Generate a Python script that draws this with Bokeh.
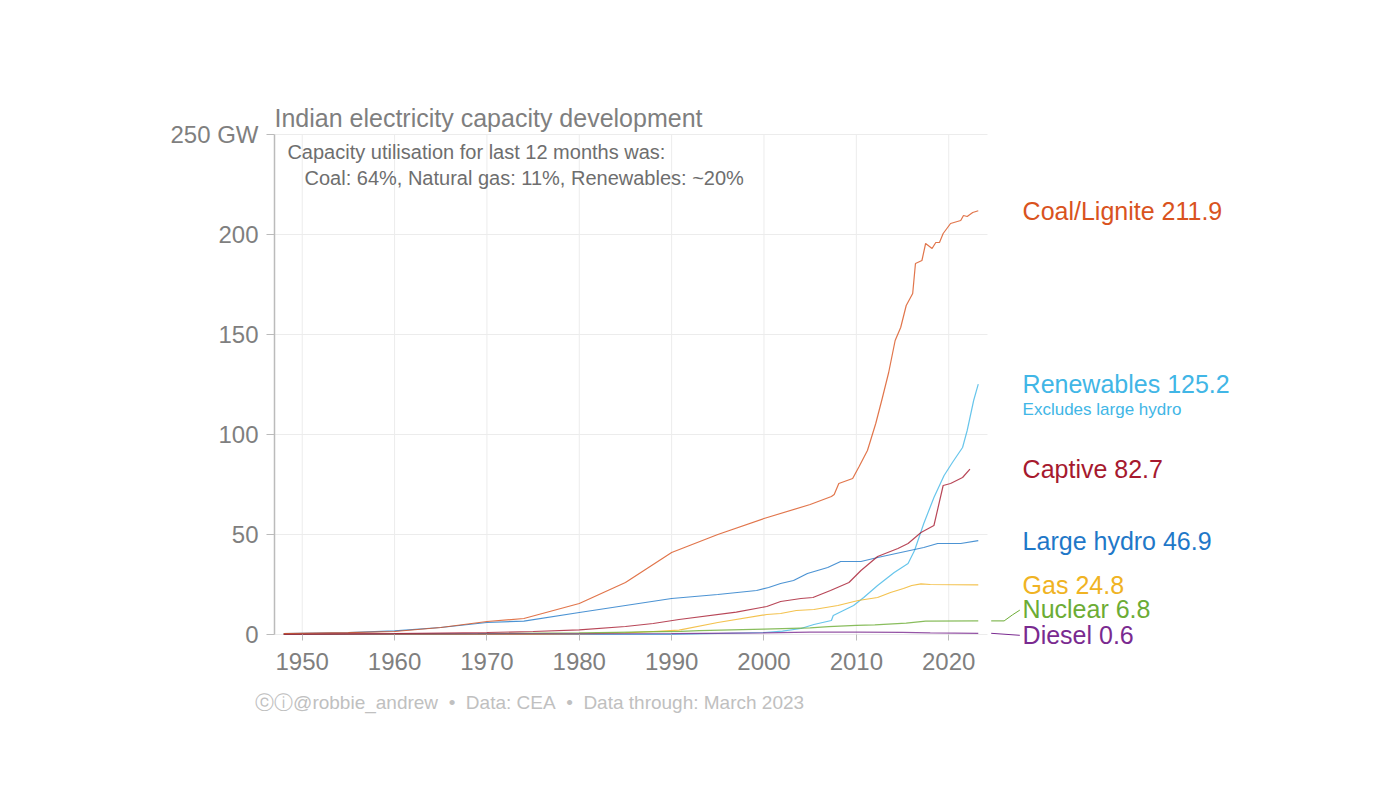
from bokeh.plotting import figure
from bokeh.models import Range1d, FixedTicker, Label
from bokeh.embed import file_html
from bokeh.resources import INLINE

FONT = "Liberation Sans"

# ---------------- data (GW) ----------------
coal_x = [1948, 1955, 1960, 1965, 1970, 1974, 1980, 1985, 1990, 1995, 2000, 2005, 2007.3, 2007.6,
          2008.1, 2009.0, 2009.6, 2010.3, 2011.2, 2012.1, 2012.8, 2013.5, 2014.2, 2014.8, 2015.4,
          2016.1, 2016.4, 2017.1, 2017.5, 2018.2, 2018.6, 2019.0, 2019.4, 2020.2, 2021.3, 2021.6,
          2022.0, 2022.6, 2023.2]
coal_y = [0.5, 0.9, 1.5, 3.5, 6.5, 8.0, 15.5, 26.0, 41.0, 50.0, 58.0, 65.0, 69.0, 70.0,
          75.5, 77.0, 78.0, 84.0, 92.0, 105.5, 118.0, 131.0, 147.0, 153.5, 164.5,
          170.5, 185.5, 187.0, 195.5, 193.0, 196.0, 196.0, 200.5, 205.5, 207.0, 209.5,
          209.0, 211.0, 211.9]

ren_x = [1948, 1990, 1995, 2000, 2002, 2004, 2005.4, 2007.3, 2007.5, 2009.7, 2010.8, 2012.3,
         2014.1, 2015.6, 2016.3, 2017.3, 2018.4, 2019.5, 2020.4, 2021.5, 2022.0, 2022.7, 2023.2]
ren_y = [0, 0.05, 0.5, 1.0, 1.7, 3.0, 5.0, 7.0, 9.5, 14.5, 18.5, 24.5,
         31.0, 35.5, 42.0, 55.5, 68.5, 79.5, 86.0, 93.5, 102.0, 117.0, 125.2]

cap_x = [1948, 1960, 1970, 1975, 1980, 1985, 1988, 1990.8, 1997, 2000.3, 2001.8, 2004, 2005.3,
         2007.2, 2009.2, 2010.5, 2012.3, 2014.5, 2015.6, 2017.0, 2018.4, 2019.4, 2020.2, 2021.5,
         2022.3]
cap_y = [0.2, 0.5, 1.0, 1.5, 2.3, 4.0, 5.5, 7.5, 11.2, 14.0, 16.5, 18.0, 18.5,
         22.0, 26.0, 32.0, 39.0, 43.0, 45.5, 51.0, 54.5, 74.5, 75.5, 78.5,
         82.7]

hyd_x = [1948, 1955, 1960, 1965, 1970, 1974, 1980, 1985, 1990, 1995, 1999.2, 2000.5, 2001.8,
         2003.2, 2004.7, 2006.9, 2008.3, 2010.5, 2012.3, 2014.8, 2017.3, 2018.8, 2021.3, 2023.2]
hyd_y = [0.5, 0.9, 1.8, 3.5, 6.0, 6.7, 11.0, 14.5, 18.0, 20.0, 22.0, 23.5, 25.5,
         27.0, 30.5, 33.5, 36.5, 36.5, 38.5, 41.0, 43.5, 45.5, 45.5, 46.9]

gas_x = [1948, 1975, 1980, 1985, 1988, 1990.8, 1995, 2000.3, 2001.8, 2003.5, 2005.4, 2008.0,
         2010.2, 2012.3, 2013.7, 2015.1, 2016.0, 2017.0, 2018.0, 2023.2]
gas_y = [0, 0.1, 0.3, 0.8, 1.5, 2.2, 6.0, 10.0, 10.5, 12.0, 12.5, 14.5,
         17.0, 18.5, 21.0, 23.0, 24.5, 25.3, 25.0, 24.8]

nuc_x = [1948, 1969, 1973, 1980, 1984, 1987, 1991, 1993, 2000, 2005, 2007, 2010, 2012,
         2015.4, 2017.5, 2023.2]
nuc_y = [0, 0.4, 0.6, 0.8, 1.1, 1.3, 1.6, 1.9, 2.7, 3.3, 3.9, 4.6, 4.8,
         5.7, 6.7, 6.8]

dsl_x = [1948, 1970, 1990, 2000, 2005, 2010, 2015, 2018, 2023.2]
dsl_y = [0.2, 0.3, 0.4, 0.8, 1.2, 1.2, 1.1, 0.8, 0.6]

series_names = ["Coal/Lignite", "Renewables", "Captive", "Large hydro", "Gas", "Nuclear", "Diesel"]
latest = [211.9, 125.2, 82.7, 46.9, 24.8, 6.8, 0.6]
label_y = [211.9, 125.2, 82.7, 46.9, 24.8, 13.0, 0.0]
colors = ["#d9531e", "#41b6e6", "#a6192e", "#1f78c8", "#f0b323", "#6cac35", "#7a2a90"]

x_ticks = [1950, 1960, 1970, 1980, 1990, 2000, 2010, 2020]
y_ticks = [0, 50, 100, 150, 200, 250]

# plot-area extent (data units)
X0, X1 = 1947.0, 2024.2
Y0, Y1 = 0, 250

# ---------------- figure ----------------
# frame covers the whole drawing so that title, labels and footer are not clipped
BL, BR, BT, BB = 130, 10, 10, 60
W, H = 1380, 780
PX_PER_YEAR = 713 / (X1 - X0)
PX_PER_GW = 2.0
x_start = X0 - (274 - BL) / PX_PER_YEAR
x_end = X0 + (W - BR - 274) / PX_PER_YEAR
y_end = Y0 + (634 - BT) / PX_PER_GW
y_start = Y0 - ((H - BB) - 634) / PX_PER_GW

p = figure(width=W, height=H, output_backend="svg", toolbar_location=None,
           x_range=Range1d(x_start, x_end), y_range=Range1d(y_start, y_end),
           min_border_left=BL, min_border_right=BR, min_border_top=BT, min_border_bottom=BB)
p.outline_line_color = None
p.background_fill_color = "white"
p.border_fill_color = "white"
p.xgrid.visible = False
p.ygrid.visible = False

p.xaxis.ticker = FixedTicker(ticks=x_ticks)
p.yaxis.ticker = FixedTicker(ticks=y_ticks)
p.xaxis.fixed_location = Y0
p.yaxis.fixed_location = X0
p.xaxis.bounds = (X0, X1)
p.yaxis.bounds = (Y0, Y1)

for ax in (p.xaxis[0], p.yaxis[0]):
    ax.major_label_text_font = FONT
    ax.major_label_text_font_size = "24px"
    ax.major_label_text_color = "#7f7f7f"
    ax.major_tick_line_color = "#bbbbbb"
    ax.major_tick_in = 0
    ax.minor_tick_line_color = None

p.yaxis.axis_line_color = "#bbbbbb"
p.yaxis.axis_line_width = 1.5
p.yaxis.major_tick_out = 8
p.yaxis.major_label_standoff = 8
p.yaxis.major_label_overrides = {250: "250 GW"}

p.xaxis.axis_line_color = None
p.xaxis.major_tick_out = 6
p.xaxis.major_label_standoff = 12

# ---------------- gridlines (from the tick lists) ----------------
p.segment(x0=x_ticks, y0=[Y0] * len(x_ticks), x1=x_ticks, y1=[Y1] * len(x_ticks),
          line_color="#ececec", line_width=1, level="underlay")
p.segment(x0=[X0] * len(y_ticks), y0=y_ticks, x1=[X1] * len(y_ticks), y1=y_ticks,
          line_color="#ececec", line_width=1, level="underlay")

# ---------------- lines ----------------
xs = [coal_x, ren_x, cap_x, hyd_x, gas_x, nuc_x, dsl_x]
ys = [coal_y, ren_y, cap_y, hyd_y, gas_y, nuc_y, dsl_y]
order = [1, 4, 5, 6, 3, 2, 0]
for i in order:
    p.line(xs[i], ys[i], line_color=colors[i], line_width=1.2, line_alpha=0.8)

# ---------------- right labels ----------------
LX = 2028.0
for name, v, ly, c in zip(series_names, latest, label_y, colors):
    p.add_layout(Label(x=LX, y=ly, text=f"{name} {v}", text_font=FONT, text_font_size="25px",
                       text_color=c, text_baseline="middle", text_align="left"))
p.add_layout(Label(x=LX, y=112.5, text="Excludes large hydro", text_font=FONT,
                   text_font_size="17px", text_color=colors[1], text_baseline="middle"))

# leader lines for Nuclear and Diesel
p.line([2024.6, 2026.0, 2026.9, 2027.7], [6.8, 6.8, 9.8, 12.2], line_color=colors[5], line_width=1)
p.line([2024.6, 2027.7], [0.6, -0.4], line_color=colors[6], line_width=1)

# ---------------- title, note, footer ----------------
p.add_layout(Label(x=X0, y=258.5, text="Indian electricity capacity development",
                   text_font=FONT, text_font_size="25px", text_color="#7f7f7f",
                   text_baseline="middle"))
p.add_layout(Label(x=1948.4, y=241.5, text="Capacity utilisation for last 12 months was:",
                   text_font=FONT, text_font_size="20px", text_color="#6e6e6e",
                   text_baseline="middle"))
p.add_layout(Label(x=1950.25, y=228.5, text="Coal: 64%, Natural gas: 11%, Renewables: ~20%",
                   text_font=FONT, text_font_size="20px", text_color="#6e6e6e",
                   text_baseline="middle"))
SEP = "\u00a0\u00a0\u2022\u00a0\u00a0"
p.add_layout(Label(x=1944.9, y=-34,
                   text="ⓒⓘ@robbie_andrew" + SEP + "Data: CEA" + SEP + "Data through: March 2023",
                   text_font=FONT, text_font_size="19px", text_color="#c0c0c0",
                   text_baseline="middle"))

open("out.html", "w").write(file_html(p, INLINE))
